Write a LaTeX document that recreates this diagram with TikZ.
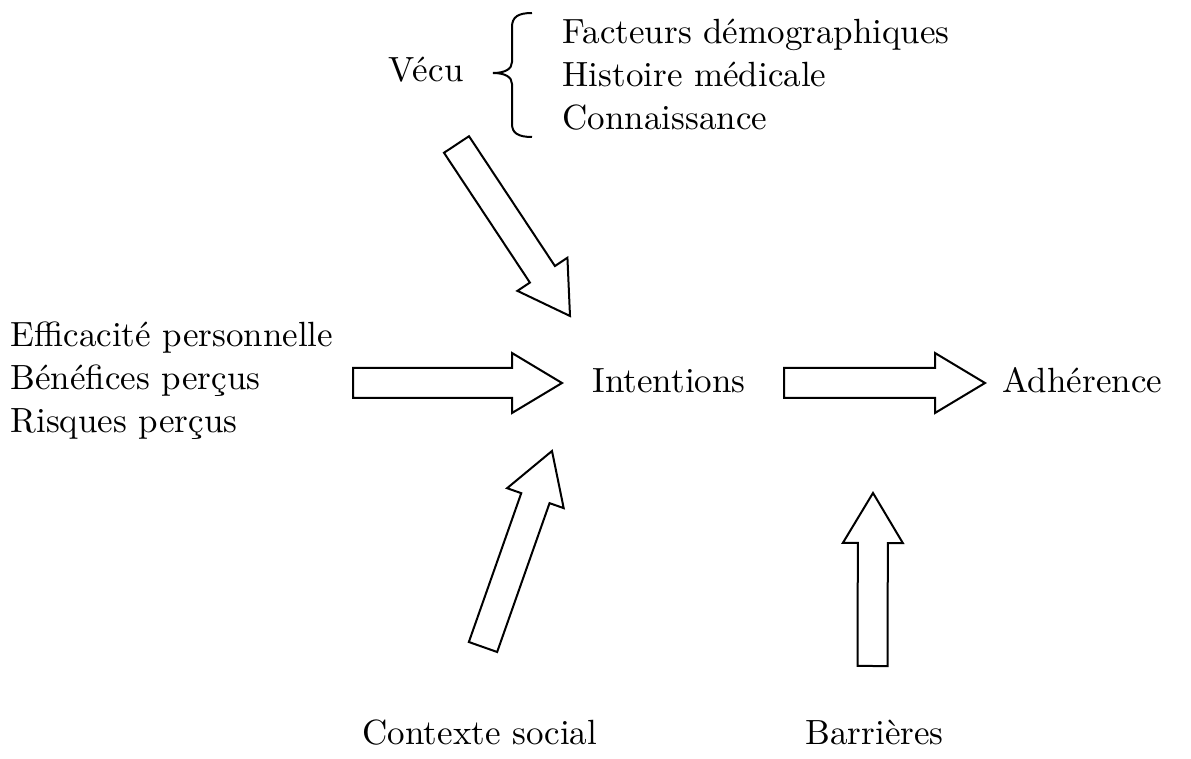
\documentclass[tikz,border=0pt]{standalone}
\usetikzlibrary{calc}

\tikzset{
  lbl/.style={inner sep=0pt, anchor=base west, align=left,
    font=\fontsize{10.5pt}{12.9pt}\selectfont},
  blockarr/.style={draw, line width=0.6pt, fill=white, line join=miter}
}

% fat outlined arrow from #1 to #2
\newcommand{\blockarrow}[2]{%
  \coordinate (ba-h) at ($(#2)!15pt!(#1)$);
  \draw[blockarr] ($(#1)!4.5pt!90:(#2)$) -- ($(ba-h)!4.5pt!90:(#2)$)
    -- ($(ba-h)!9pt!90:(#2)$) -- (#2) -- ($(ba-h)!9pt!-90:(#2)$)
    -- ($(ba-h)!4.5pt!-90:(#2)$) -- ($(#1)!4.5pt!-90:(#2)$) -- cycle;}

\begin{document}
\begin{tikzpicture}[x=0.3pt, y=-0.3pt]
\useasboundingbox (0,0) rectangle (1191,759);

% texts (base = last line)
\node[lbl] (vecu) at (388,82) {Vécu};
\node[lbl] (facteurs) at (562,130) {Facteurs démographiques\\Histoire médicale\\Connaissance};
\node[lbl] (pers) at (10,433) {Efficacité personnelle\\Bénéfices perçus\\Risques perçus};
\node[lbl] (intent) at (592,393) {Intentions};
\node[lbl] (adh) at (1002,393) {Adhérence};
\node[lbl] (social) at (362,745) {Contexte social};
\node[lbl] (barr) at (805,745) {Barrières};

% brace
\draw[line width=0.6pt] (532,13) .. controls (518,13) and (512,17) .. (512,27)
  -- (512,62) .. controls (512,69) and (505,73) .. (493,73)
  .. controls (505,73) and (512,77) .. (512,84)
  -- (512,124) .. controls (512,133) and (518,137) .. (532,137);

% arrow ends
\coordinate (vecu-s) at (456.5,144.5);
\coordinate (vecu-e) at (570,316);
\coordinate (pers-s) at (353,383);
\coordinate (pers-e) at (562,383);
\coordinate (intent-s) at (784,383);
\coordinate (intent-e) at (985,383);
\coordinate (social-s) at (483,647);
\coordinate (social-e) at (552,451);
\coordinate (barr-s) at (872.5,666);
\coordinate (barr-e) at (873,493);

% arrows
\blockarrow{vecu-s}{vecu-e}
\blockarrow{pers-s}{pers-e}
\blockarrow{intent-s}{intent-e}
\blockarrow{social-s}{social-e}
\blockarrow{barr-s}{barr-e}

\end{tikzpicture}
\end{document}
